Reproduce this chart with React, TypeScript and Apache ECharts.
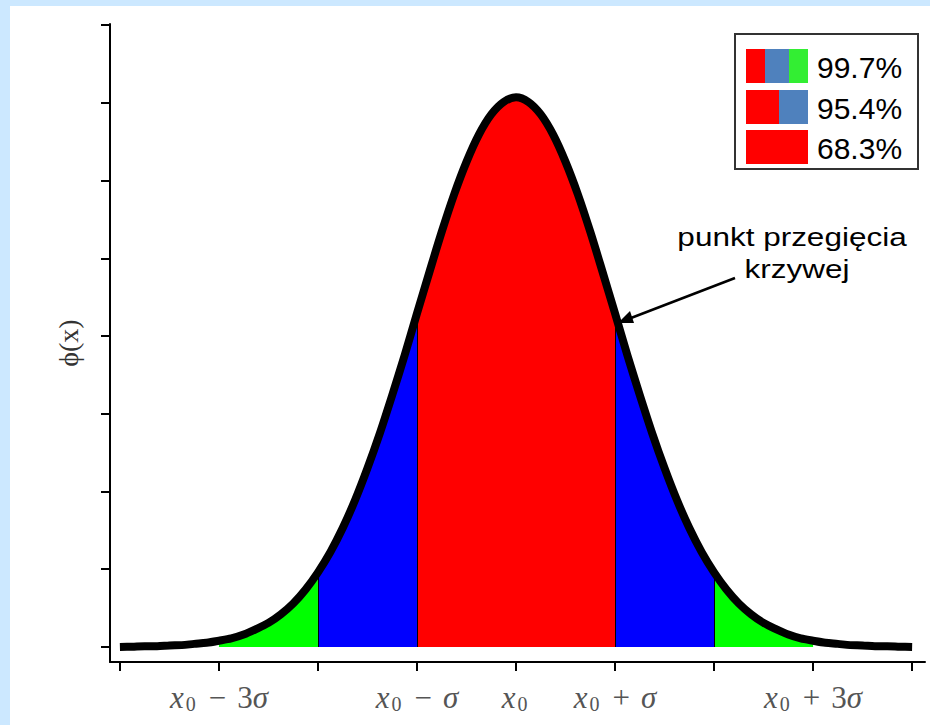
import React, { useEffect, useRef } from "react";
import * as echarts from "echarts";

// Curve samples (x in units of sigma from x0, height in axis-tick units)
const sigmaSteps = [
  -4, -3.875, -3.75, -3.625, -3.5, -3.375, -3.25, -3.125, -3, -2.875, -2.75, -2.625, -2.5, -2.375,
  -2.25, -2.125, -2, -1.875, -1.75, -1.625, -1.5, -1.375, -1.25, -1.125, -1, -0.875, -0.75, -0.625,
  -0.5, -0.375, -0.25, -0.125, 0, 0.125, 0.25, 0.375, 0.5, 0.625, 0.75, 0.875, 1, 1.125, 1.25,
  1.375, 1.5, 1.625, 1.75, 1.875, 2, 2.125, 2.25, 2.375, 2.5, 2.625, 2.75, 2.875, 3, 3.125, 3.25,
  3.375, 3.5, 3.625, 3.75, 3.875, 4,
];
const curveHeights = [
  0.0, 0.004, 0.01, 0.01, 0.02, 0.024, 0.04, 0.054, 0.08, 0.11, 0.16, 0.23, 0.31, 0.42, 0.56, 0.74,
  0.96, 1.22, 1.53, 1.89, 2.3, 2.75, 3.24, 3.75, 4.29, 4.82, 5.34, 5.82, 6.24, 6.59, 6.85, 7.01,
  7.07, 7.01, 6.85, 6.59, 6.24, 5.82, 5.34, 4.82, 4.29, 3.75, 3.24, 2.75, 2.3, 1.89, 1.53, 1.22,
  0.96, 0.74, 0.56, 0.42, 0.31, 0.23, 0.16, 0.11, 0.08, 0.054, 0.04, 0.024, 0.02, 0.01, 0.01, 0.004,
  0.0,
];

const yTickValues = [0, 1, 2, 3, 4, 5, 6, 7, 8];
const xTickValues = [-4, -3, -2, -1, 0, 1, 2, 3, 4];
const xLabelValues = [-3, -1, 0, 1, 3];
const xLabelSuffix: Record<string, string> = {
  "-3": "{o|−}{n|3}{i|σ}",
  "-1": "{o|−}{i|σ}",
  "0": "",
  "1": "{o|+}{i|σ}",
  "3": "{o|+}{n|3}{i|σ}",
};
const boundaries = [-2, -1, 1, 2];

const legendLabels = ["99.7%", "95.4%", "68.3%"];
const legendSwatches: { w: number; color: string }[][] = [
  [
    { w: 19, color: "#ff0000" },
    { w: 24, color: "#4f81bd" },
    { w: 19, color: "#33ee33" },
  ],
  [
    { w: 33, color: "#ff0000" },
    { w: 29, color: "#4f81bd" },
  ],
  [{ w: 62, color: "#ff0000" }],
];

const annotationLines = ["punkt przegięcia", "krzywej"];

function pick(lo: number, hi: number): number[][] {
  const out: number[][] = [];
  sigmaSteps.forEach((x, i) => {
    if (x >= lo - 1e-9 && x <= hi + 1e-9) out.push([x, curveHeights[i]]);
  });
  return out;
}

function heightAt(x: number): number {
  const i = sigmaSteps.indexOf(x);
  return i >= 0 ? curveHeights[i] : 0;
}

function areaSeries(lo: number, hi: number, color: string) {
  return {
    type: "line",
    data: pick(lo, hi),
    smooth: 0.3,
    symbol: "none",
    silent: true,
    lineStyle: { width: 0, color },
    areaStyle: { color, opacity: 1 },
    z: 2,
  };
}

const serif = "Liberation Serif, DejaVu Serif, serif";
const labelColor = "#555";

export default function App() {
  const ref = useRef<HTMLDivElement>(null);

  useEffect(() => {
    if (!ref.current) return;
    const chart = echarts.init(ref.current, null, { renderer: "svg" });

    const legendGraphics: any[] = [];
    const rowTops = [49, 90, 130];
    legendSwatches.forEach((row, r) => {
      let x = 746;
      row.forEach((s) => {
        legendGraphics.push({
          type: "rect",
          shape: { x, y: rowTops[r], width: s.w, height: 34 },
          style: { fill: s.color },
          z: 11,
        });
        x += s.w;
      });
      legendGraphics.push({
        type: "text",
        x: 817,
        y: rowTops[r] + 18,
        style: {
          text: legendLabels[r],
          fontSize: 30,
          fontFamily: "Liberation Sans, Arial, sans-serif",
          fill: "#000",
          verticalAlign: "middle",
          align: "left",
        },
        z: 11,
      });
    });

    const option: any = {
      animation: false,
      backgroundColor: "transparent",
      grid: { left: 110, right: 5, top: 24, bottom: 63, containLabel: false },
      xAxis: {
        type: "value",
        min: -4.1,
        max: 4.13,
        axisLine: { show: true, onZero: false, lineStyle: { color: "#000", width: 2 } },
        axisTick: {
          show: true,
          customValues: xTickValues,
          length: 9,
          lineStyle: { color: "#000", width: 2 },
        },
        splitLine: { show: false },
        axisLabel: {
          show: true,
          customValues: xLabelValues,
          margin: 18,
          formatter: (v: number) => "{i|x}{s|0}" + (xLabelSuffix[String(v)] ?? ""),
          rich: {
            i: {
              fontFamily: serif,
              fontStyle: "italic",
              fontSize: 31,
              color: labelColor,
              lineHeight: 34,
              verticalAlign: "middle",
            },
            s: {
              fontFamily: serif,
              fontSize: 20,
              color: labelColor,
              lineHeight: 22,
              verticalAlign: "bottom",
              padding: [0, 3, 0, 2],
            },
            o: {
              fontFamily: serif,
              fontSize: 31,
              color: labelColor,
              lineHeight: 34,
              verticalAlign: "middle",
              padding: [0, 11, 0, 10],
            },
            n: {
              fontFamily: serif,
              fontSize: 31,
              color: labelColor,
              lineHeight: 34,
              verticalAlign: "middle",
            },
          },
        },
      },
      yAxis: {
        type: "value",
        min: -0.193,
        max: 8.013,
        axisLine: { show: true, onZero: false, lineStyle: { color: "#000", width: 2 } },
        axisTick: {
          show: true,
          customValues: yTickValues,
          length: 9,
          lineStyle: { color: "#000", width: 2 },
        },
        axisLabel: { show: false },
        splitLine: { show: false },
      },
      series: [
        areaSeries(-3, -2, "#00ff00"),
        areaSeries(2, 3, "#00ff00"),
        areaSeries(-2, -1, "#0000ff"),
        areaSeries(1, 2, "#0000ff"),
        areaSeries(-1, 1, "#ff0000"),
        {
          type: "line",
          data: pick(-4, 4),
          smooth: 0.3,
          symbol: "none",
          silent: true,
          lineStyle: { color: "#000", width: 8, join: "round", cap: "butt" },
          z: 4,
          markLine: {
            silent: true,
            symbol: ["none", "none"],
            label: { show: false },
            lineStyle: { color: "#000", width: 1, type: "solid" },
            data: boundaries.map((b) => [
              { coord: [b, 0] },
              { coord: [b, heightAt(b)] },
            ]),
          },
        },
      ],
      graphic: [
        {
          type: "rect",
          shape: { x: 10, y: 6, width: 920, height: 719 },
          style: { fill: "#ffffff" },
          z: -10,
        },
        {
          type: "text",
          x: 68,
          y: 343,
          rotation: Math.PI / 2,
          style: {
            text: "ϕ(x)",
            fontSize: 28,
            fontFamily: serif,
            fill: "#333",
            align: "center",
            verticalAlign: "middle",
          },
          z: 10,
        },
        {
          type: "rect",
          shape: { x: 735, y: 34, width: 183, height: 135 },
          style: { fill: "#fff", stroke: "#333", lineWidth: 2 },
          z: 10,
        },
        ...legendGraphics,
        {
          type: "text",
          x: 792,
          y: 237,
          scaleX: 1.26,
          style: {
            text: annotationLines[0],
            fontSize: 25,
            fontFamily: "Liberation Sans, Arial, sans-serif",
            fill: "#000",
            align: "center",
            verticalAlign: "middle",
          },
          z: 10,
        },
        {
          type: "text",
          x: 797,
          y: 269,
          scaleX: 1.26,
          style: {
            text: annotationLines[1],
            fontSize: 25,
            fontFamily: "Liberation Sans, Arial, sans-serif",
            fill: "#000",
            align: "center",
            verticalAlign: "middle",
          },
          z: 10,
        },
        {
          type: "line",
          shape: { x1: 735, y1: 278, x2: 631, y2: 318 },
          style: { stroke: "#000", lineWidth: 2.5 },
          z: 10,
        },
        {
          type: "polygon",
          shape: {
            points: [
              [618, 323],
              [634, 323],
              [630, 311],
            ],
          },
          style: { fill: "#000" },
          z: 10,
        },
      ],
    };

    chart.setOption(option);
    return () => chart.dispose();
  }, []);

  return (
    <div
      style={{
        position: "fixed",
        left: 0,
        top: 0,
        width: 930,
        height: 725,
        background: "#cce8ff",
      }}
    >
      <div ref={ref} style={{ width: 930, height: 725 }} />
    </div>
  );
}
